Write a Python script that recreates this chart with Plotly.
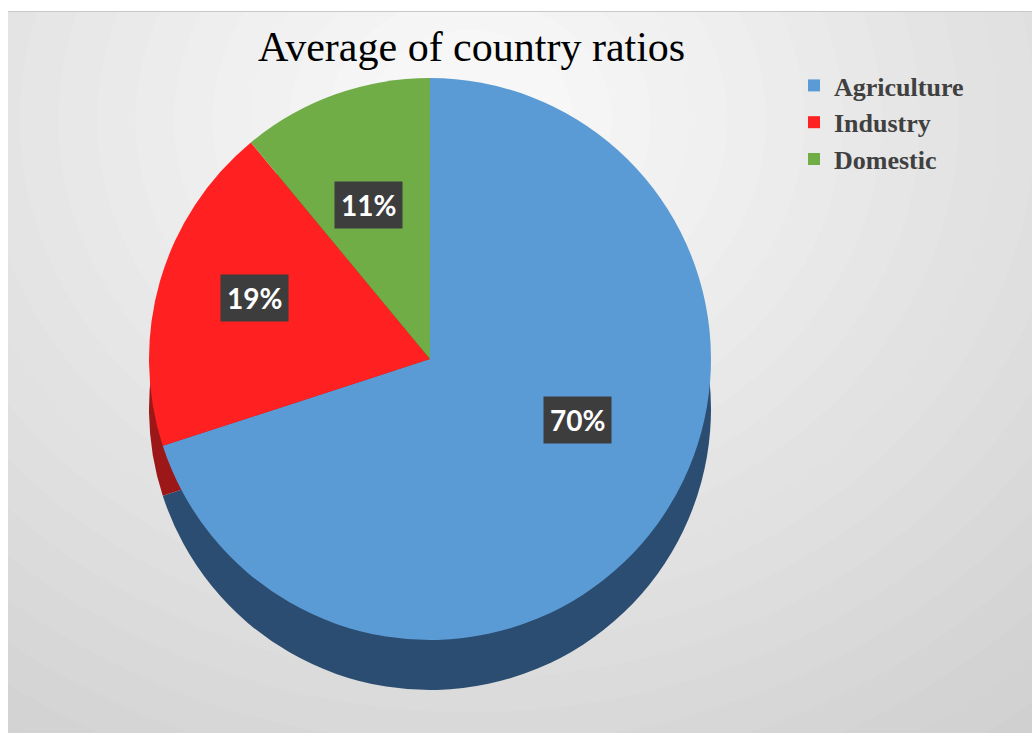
import math
import plotly.graph_objects as go

# ---- data ----
categories = ["Agriculture", "Industry", "Domestic"]
values = [70, 19, 11]
colors = ["#5b9bd5", "#ff2121", "#70ad47"]
side_colors = ["#2c4d72", "#9c1818", "#3f6a28"]
title_text = "Average of country ratios"

W, H = 1032, 733
cx, cy, r = 430, 359, 281   # pixel geometry of the pie face
depth = 50


def px_x(x):
    return x / W


def px_y(y):
    return 1 - y / H


face_domain = dict(x=[px_x(cx - r), px_x(cx + r)], y=[px_y(cy + r), px_y(cy - r)])
side_domain = dict(x=[px_x(cx - r), px_x(cx + r)], y=[px_y(cy + r + depth), px_y(cy - r + depth)])

fig = go.Figure()

# side (depth) of the 3D-looking pie
fig.add_trace(go.Pie(
    labels=categories, values=values, sort=False, direction="clockwise", rotation=0,
    marker=dict(colors=side_colors, line=dict(width=0)),
    textinfo="none", hoverinfo="skip", showlegend=False, domain=side_domain,
))
# pie face
fig.add_trace(go.Pie(
    labels=categories, values=values, sort=False, direction="clockwise", rotation=0,
    marker=dict(colors=colors, line=dict(width=0)),
    textinfo="none", domain=face_domain, name="",
))

# data labels in dark boxes, placed along each slice's mid-angle
total = sum(values)
cum = 0
annotations = []
kx, ky, lab_dy = 0.65, 0.5, -22
for lab, v in zip(categories, values):
    theta = 2 * math.pi * (cum + v / 2) / total
    cum += v
    x = cx + kx * r * math.sin(theta)
    y = cy + lab_dy - ky * r * math.cos(theta)
    annotations.append(dict(
        x=px_x(x), y=px_y(y), xref="paper", yref="paper", showarrow=False,
        xanchor="center", yanchor="middle",
        text=f"<b>{round(100 * v / total)}%</b>",
        font=dict(family="Lato", size=28, color="white"),
        bgcolor="#3d3d3d", borderpad=6,
    ))

annotations.append(dict(
    x=px_x(471), y=px_y(47), xref="paper", yref="paper", showarrow=False,
    text=title_text, xanchor="center", yanchor="middle",
    font=dict(family="Liberation Serif", size=42, color="#000000"),
))

# background: approximated soft radial gradient
shapes = [dict(type="rect", xref="paper", yref="paper", x0=px_x(8), x1=1, y0=0, y1=px_y(11),
               fillcolor="#cbcbcb", line=dict(width=0), layer="below")]
gx, gy = 470, 120
n = 24
for i in range(n):
    rad = 860 - i * (860 - 90) / (n - 1)
    g = int(round(204 + (247 - 204) * i / (n - 1)))
    col = f"rgb({g},{g},{g})"
    shapes.append(dict(type="circle", xref="paper", yref="paper",
                       x0=px_x(gx - rad * 1.15), x1=px_x(gx + rad * 1.15),
                       y0=px_y(gy + rad), y1=px_y(gy - rad),
                       fillcolor=col, line=dict(width=0), layer="below"))
# white outer margins and thin top border
shapes.append(dict(type="rect", xref="paper", yref="paper", x0=-0.1, x1=px_x(8), y0=-0.1, y1=1.1,
                   fillcolor="white", line=dict(width=0), layer="below"))
shapes.append(dict(type="rect", xref="paper", yref="paper", x0=-0.1, x1=1.1, y0=px_y(11), y1=1.1,
                   fillcolor="white", line=dict(width=0), layer="below"))
shapes.append(dict(type="line", xref="paper", yref="paper", x0=px_x(8), x1=1, y0=px_y(11.5), y1=px_y(11.5),
                   line=dict(color="#c8c8c8", width=1), layer="below"))

fig.update_layout(
    width=W, height=H,
    margin=dict(l=0, r=0, t=0, b=0),
    paper_bgcolor="white",
    shapes=shapes,
    annotations=annotations,
    legend=dict(
        x=px_x(794), y=px_y(62), xanchor="left", yanchor="top",
        font=dict(family="Liberation Serif", size=26, color="#404040", weight="bold"),
        bgcolor="rgba(0,0,0,0)", traceorder="normal",
    ),
)

fig.write_html("out.html")
